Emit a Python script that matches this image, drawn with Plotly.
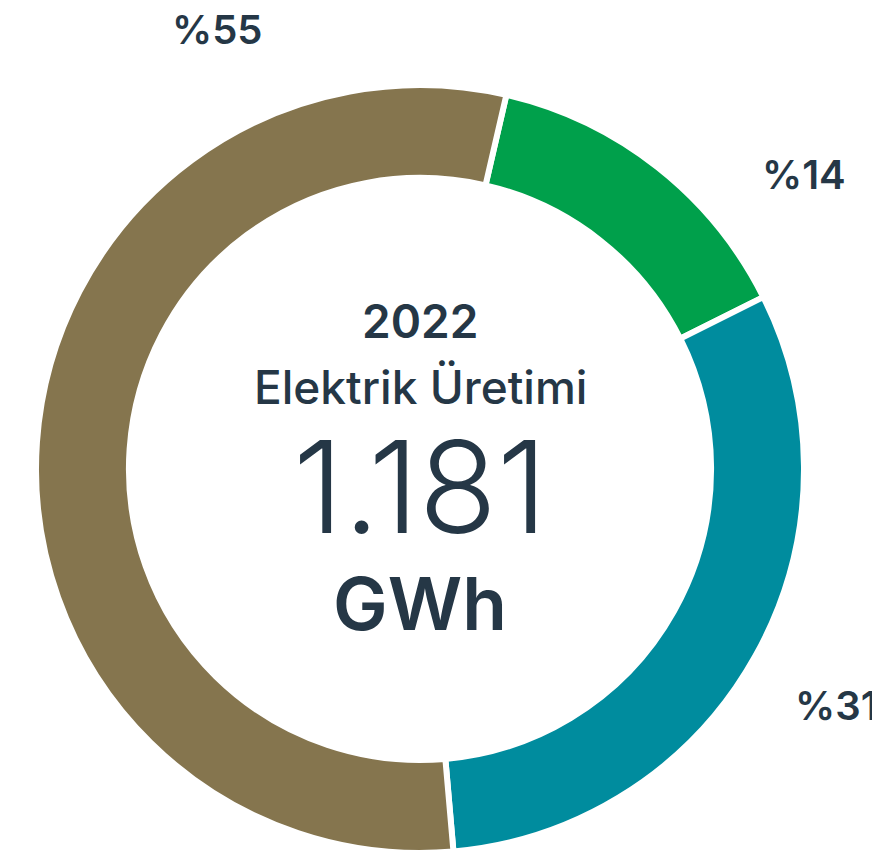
import plotly.graph_objects as go

categories = ["Yenilenebilir", "Hidro", "Termik"]
shares = [14, 31, 55]
colors = ["#00A04B", "#008C9E", "#85754E"]
label_text = ["%14", "%31", "%55"]

center_year = "2022"
center_title = "Elektrik Üretimi"
center_value = "1.181"
center_unit = "GWh"

W, H = 872, 856
TEXT = "#253746"

fig = go.Figure(go.Pie(
    labels=categories,
    values=shares,
    hole=0.758,
    sort=False,
    direction="clockwise",
    rotation=13,
    marker=dict(colors=colors, line=dict(color="white", width=6)),
    textinfo="none",
    hoverinfo="label+percent",
    domain=dict(x=[35 / W, 805 / W], y=[1 - 853 / H, 1 - 85 / H]),
    showlegend=False,
))

def px(x):
    return x / W

def py(y):
    return 1 - y / H

anns = []
# outer labels
label_pos = [(804, 174, "center"), (793, 705, "left"), (217, 29, "center")]
for t, (x, y, anc) in zip(label_text, label_pos):
    anns.append(dict(x=px(x), y=py(y), xref="paper", yref="paper", text=t,
                     showarrow=False, xanchor=anc, yanchor="middle",
                     font=dict(family="Inter", size=40, color=TEXT, weight=600)))

center = [
    (center_year, 321, 46, 600),
    (center_title, 387, 46, 500),
    (center_value, 486, 128, 300),
    (center_unit, 603, 73, 600),
]
for t, y, s, w in center:
    anns.append(dict(x=px(420), y=py(y), xref="paper", yref="paper", text=t,
                     showarrow=False, xanchor="center", yanchor="middle",
                     font=dict(family="Inter", size=s, color=TEXT, weight=w)))

fig.update_layout(
    width=W, height=H,
    margin=dict(l=0, r=0, t=0, b=0),
    paper_bgcolor="white",
    plot_bgcolor="white",
    annotations=anns,
)

fig.write_html("out.html")
